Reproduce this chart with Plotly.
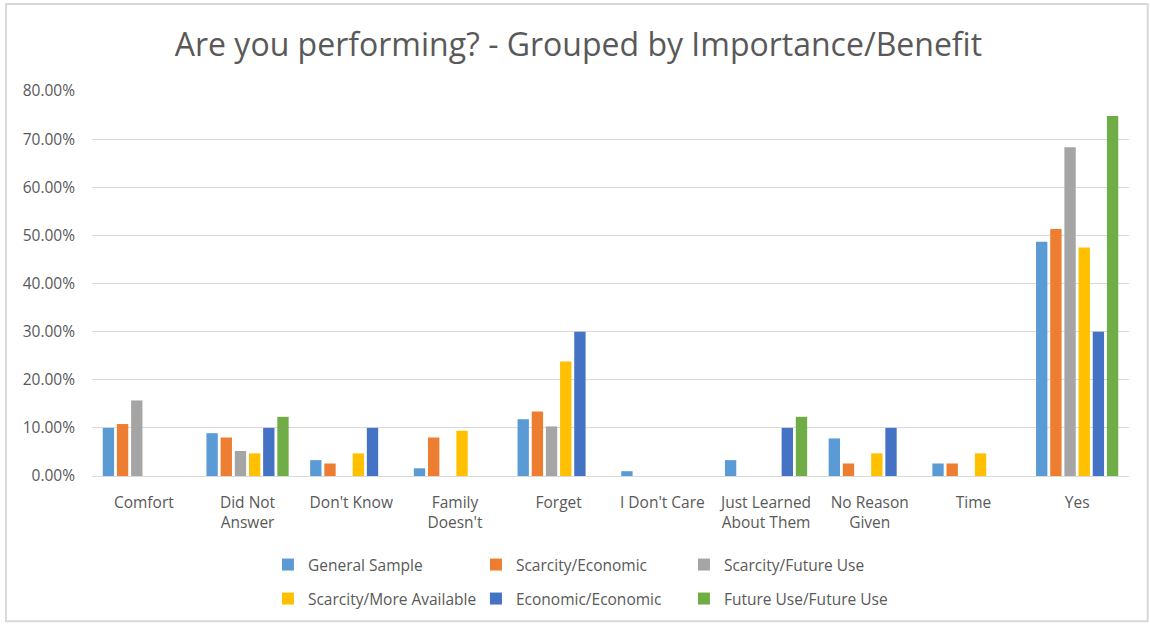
import plotly.graph_objects as go

categories = ["Comfort", "Did Not Answer", "Don't Know", "Family Doesn't", "Forget",
              "I Don't Care", "Just Learned About Them", "No Reason Given", "Time", "Yes"]
tick_labels = ["Comfort", "Did Not<br>Answer", "Don't Know", "Family<br>Doesn't", "Forget",
               "I Don't Care", "Just Learned<br>About Them", "No Reason<br>Given", "Time", "Yes"]

series_names = ["General Sample", "Scarcity/Economic", "Scarcity/Future Use",
                "Scarcity/More Available", "Economic/Economic", "Future Use/Future Use"]

general_sample = [0.100, 0.089, 0.033, 0.016, 0.118, 0.010, 0.033, 0.078, 0.026, 0.487]
scarcity_economic = [0.108, 0.080, 0.026, 0.080, 0.134, None, None, 0.026, 0.026, 0.513]
scarcity_future = [0.157, 0.052, None, None, 0.103, None, None, None, None, 0.683]
scarcity_more = [None, 0.047, 0.047, 0.094, 0.238, None, None, 0.047, 0.047, 0.475]
economic_economic = [None, 0.100, 0.100, None, 0.300, None, 0.100, 0.100, None, 0.300]
future_future = [None, 0.123, None, None, None, None, 0.123, None, None, 0.748]

series_values = [general_sample, scarcity_economic, scarcity_future,
                 scarcity_more, economic_economic, future_future]
colors = ["#5B9BD5", "#ED7D31", "#A5A5A5", "#FFC000", "#4472C4", "#70AD47"]

FONT = "Open Sans"
GREY = "#595959"

fig = go.Figure()
for i, (name, vals, col) in enumerate(zip(series_names, series_values, colors)):
    fig.add_trace(go.Bar(
        x=categories, y=vals, name=name, marker=dict(color=col, line=dict(width=0)),
        legend="legend" if i < 3 else "legend2",
    ))

legend_common = dict(
    orientation="h", xanchor="left", yanchor="middle",
    xref="container", yref="container",
    font=dict(family=FONT, size=15.5, color=GREY),
    bgcolor="rgba(0,0,0,0)", entrywidth=163, entrywidthmode="pixels",
    itemwidth=30, traceorder="normal",
)

fig.update_layout(
    width=1150, height=624,
    margin=dict(l=92, r=21, t=91, b=148),
    paper_bgcolor="white", plot_bgcolor="white",
    title=dict(text="Are you performing? - Grouped by Importance/Benefit",
               x=0.503, xanchor="center", y=0.928, yanchor="middle",
               font=dict(family=FONT, size=32, color=GREY)),
    barmode="group", bargap=0.18, bargroupgap=0.2,
    legend=dict(x=0.233, y=0.0946, **legend_common),
    legend2=dict(x=0.233, y=0.0401, **legend_common),
    xaxis=dict(type="category", tickvals=categories, ticktext=tick_labels,
               tickfont=dict(family=FONT, size=15.5, color=GREY),
               showline=True, linecolor="#d9d9d9", linewidth=1, ticks="",
               showgrid=False, ticklabelstandoff=12, automargin=False),
    yaxis=dict(range=[0, 0.8], dtick=0.1, tickformat=".2%",
               tickfont=dict(family=FONT, size=15.5, color=GREY),
               gridcolor="#d9d9d9", gridwidth=1, zeroline=False,
               ticklabelstandoff=16, automargin=False),
    shapes=[dict(type="rect", xref="paper", yref="paper",
                 x0=-0.0829, x1=1.018, y0=-0.377, y1=1.226,
                 line=dict(color="#d9d9d9", width=2), fillcolor="rgba(0,0,0,0)",
                 layer="below")],
)

fig.write_html("out.html")
